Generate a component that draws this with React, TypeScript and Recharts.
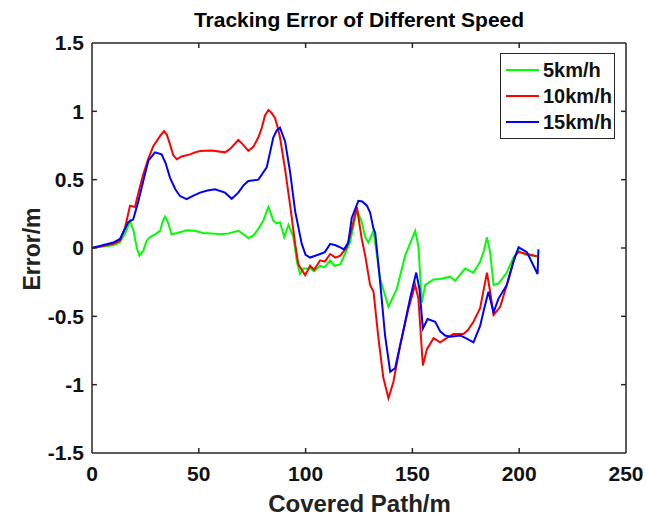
import { LineChart, Line, XAxis, YAxis, ReferenceLine } from "recharts";

// 5km/h
const greenX = [0, 5, 10, 13, 16, 17.8, 19.5, 21, 22.2, 24, 25.5, 27.2, 29.5, 31.9, 33, 34.2, 35.5, 37.3, 40, 44.3, 48.2, 52, 56, 60, 63.9, 68.5, 71, 73.2, 75.5, 77.9, 80.2, 82.6, 84.9, 86.5, 88, 90, 92, 94.3, 95.9, 97.4, 99, 102.1, 104, 106.8, 109, 111.5, 113.5, 116.2, 118.5, 120.8, 124, 126.3, 127.9, 129.4, 131.8, 134.9, 138.8, 142.7, 146.6, 151.3, 152.8, 154.4, 156, 159.9, 163, 167.7, 170, 174.7, 178.6, 181.7, 183.5, 184.9, 186.4, 188, 190.3, 194.2, 197.3, 199.7, 202.8, 208.3];
const greenY = [0, 0.01, 0.02, 0.04, 0.12, 0.2, 0.12, 0, -0.056, -0.02, 0.05, 0.08, 0.1, 0.126, 0.19, 0.23, 0.19, 0.1, 0.11, 0.13, 0.126, 0.11, 0.107, 0.1, 0.107, 0.126, 0.1, 0.073, 0.09, 0.14, 0.2, 0.3, 0.2, 0.18, 0.19, 0.08, 0.17, 0.08, -0.1, -0.19, -0.15, -0.15, -0.17, -0.13, -0.14, -0.09, -0.13, -0.12, -0.04, 0.04, 0.28, 0.19, 0.08, 0.04, 0.126, -0.226, -0.43, -0.3, -0.056, 0.126, 0.017, -0.4, -0.27, -0.23, -0.226, -0.21, -0.24, -0.15, -0.18, -0.1, -0.02, 0.078, -0.03, -0.27, -0.26, -0.18, -0.07, -0.02, -0.05, -0.06];

// 10km/h
const redX = [0, 5, 10, 13.1, 15.5, 17.8, 20.1, 22, 24, 26.5, 28.7, 31.9, 33.7, 35, 36.5, 38, 39.7, 42, 45.9, 48.2, 50.6, 56, 62.3, 65, 68.5, 70.5, 73.2, 75.5, 77.9, 79.5, 81, 82.6, 84, 85.7, 87, 88, 90.4, 92.7, 95.1, 96.6, 99.8, 102.1, 104, 106.8, 109, 111.5, 114, 116.2, 119.3, 121.6, 124, 126.3, 127.9, 130.2, 131.8, 134.1, 136.4, 138.8, 141.1, 144.3, 148.2, 151.3, 152.8, 154.9, 156.8, 159.9, 163, 166, 169.2, 173.9, 176, 178.6, 181.7, 184.9, 186.4, 188, 191.1, 194.2, 198.1, 199.7, 203.6, 208.3];
const redY = [0, 0.015, 0.03, 0.053, 0.15, 0.31, 0.3, 0.42, 0.54, 0.66, 0.745, 0.82, 0.855, 0.83, 0.76, 0.68, 0.65, 0.67, 0.685, 0.7, 0.71, 0.714, 0.7, 0.73, 0.79, 0.76, 0.71, 0.74, 0.81, 0.88, 0.97, 1.01, 0.99, 0.95, 0.88, 0.81, 0.575, 0.32, 0.03, -0.12, -0.2, -0.13, -0.16, -0.09, -0.1, -0.044, -0.07, -0.056, 0.005, 0.14, 0.3, 0.066, -0.056, -0.27, -0.32, -0.66, -0.95, -1.1, -0.98, -0.71, -0.44, -0.27, -0.37, -0.86, -0.74, -0.66, -0.69, -0.66, -0.63, -0.63, -0.6, -0.54, -0.44, -0.18, -0.32, -0.49, -0.43, -0.27, -0.056, -0.03, -0.044, -0.06];

// 15km/h
const blueX = [0, 5, 10, 13.1, 17, 19.3, 21.5, 24, 26.4, 29.5, 32.6, 34.5, 36.5, 39, 41.2, 44.3, 47, 50.6, 54, 57.6, 62.3, 65.4, 68.5, 71, 73.2, 77.9, 81.8, 84.9, 86.5, 88, 90.4, 92.7, 95.1, 98.2, 100, 102.1, 106.8, 109, 111.5, 114, 116.2, 118, 120, 121.6, 124.7, 126.5, 128.7, 130.2, 131.8, 132.6, 134.9, 137.2, 139.6, 141.9, 145, 148.9, 151.8, 153.3, 154.9, 157.1, 160.7, 163, 165.3, 167.7, 172.4, 175, 178.6, 181.7, 183.5, 185.6, 188, 190.3, 194.2, 197.3, 199.7, 203.6, 206.7, 208.6, 209];
const blueY = [0, 0.02, 0.04, 0.066, 0.19, 0.21, 0.33, 0.49, 0.64, 0.7, 0.685, 0.62, 0.515, 0.43, 0.38, 0.357, 0.38, 0.405, 0.42, 0.43, 0.405, 0.36, 0.405, 0.46, 0.49, 0.5, 0.59, 0.81, 0.86, 0.88, 0.78, 0.56, 0.27, 0.03, -0.05, -0.07, -0.044, -0.03, 0.03, 0.02, 0.005, -0.01, 0.04, 0.22, 0.345, 0.34, 0.31, 0.26, 0.14, 0.11, -0.25, -0.64, -0.905, -0.88, -0.66, -0.37, -0.18, -0.3, -0.59, -0.52, -0.54, -0.61, -0.64, -0.65, -0.64, -0.66, -0.69, -0.57, -0.45, -0.32, -0.47, -0.37, -0.27, -0.1, 0.005, -0.03, -0.13, -0.19, -0.01];

const xTicks = [0, 50, 100, 150, 200, 250];
const yTicks = [-1.5, -1, -0.5, 0, 0.5, 1, 1.5];
const xDomain = [0, 250];
const yDomain = [-1.5, 1.5];

const seriesNames = ["5km/h", "10km/h", "15km/h"];
const seriesColors = ["#00ff00", "#ff0000", "#0000ff"];

const toPoints = (xs: number[], ys: number[]) => xs.map((x, i) => ({ x, y: ys[i] }));
const series = [toPoints(greenX, greenY), toPoints(redX, redY), toPoints(blueX, blueY)];

const font = '"Liberation Sans", Arial, sans-serif';
const axisColor = "#262626";
const tickStyle = { fontSize: 21, fontWeight: 700, fill: "#111", fontFamily: font };
// inward tick length, in data units (about 5px each way)
const xTickLen = 2.3;
const yTickLen = 0.037;

export default function App() {
  const [x0, x1] = xDomain;
  const [y0, y1] = yDomain;
  return (
    <div style={{ position: "absolute", left: 0, top: 0, width: 646, height: 518, background: "#fff", fontFamily: font }}>
      <LineChart width={646} height={518} margin={{ top: 42, right: 19, bottom: 0, left: 0 }}>
        <XAxis
          dataKey="x"
          type="number"
          domain={xDomain}
          ticks={xTicks}
          allowDuplicatedCategory={false}
          height={65}
          stroke={axisColor}
          strokeWidth={1.5}
          tickLine={false}
          tickSize={0}
          tickMargin={13}
          tick={tickStyle}
        />
        <XAxis xAxisId="top" orientation="top" type="number" domain={xDomain} ticks={xTicks} height={1} stroke={axisColor} strokeWidth={1.5} tickLine={false} tick={false} />
        <YAxis
          type="number"
          domain={yDomain}
          ticks={yTicks}
          width={92}
          stroke={axisColor}
          strokeWidth={1.5}
          tickLine={false}
          tickSize={0}
          tickMargin={8}
          tick={tickStyle}
        />
        <YAxis yAxisId="right" orientation="right" type="number" domain={yDomain} ticks={yTicks} width={1} stroke={axisColor} strokeWidth={1.5} tickLine={false} tick={false} />

        {xTicks.slice(1, -1).map((t) => (
          <ReferenceLine key={`xb${t}`} segment={[{ x: t, y: y0 }, { x: t, y: y0 + yTickLen }]} stroke={axisColor} strokeWidth={1.5} />
        ))}
        {xTicks.slice(1, -1).map((t) => (
          <ReferenceLine key={`xt${t}`} segment={[{ x: t, y: y1 }, { x: t, y: y1 - yTickLen }]} stroke={axisColor} strokeWidth={1.5} />
        ))}
        {yTicks.slice(1, -1).map((t) => (
          <ReferenceLine key={`yl${t}`} segment={[{ x: x0, y: t }, { x: x0 + xTickLen, y: t }]} stroke={axisColor} strokeWidth={1.5} />
        ))}
        {yTicks.slice(1, -1).map((t) => (
          <ReferenceLine key={`yr${t}`} segment={[{ x: x1, y: t }, { x: x1 - xTickLen, y: t }]} stroke={axisColor} strokeWidth={1.5} />
        ))}

        {series.map((pts, i) => (
          <Line
            key={seriesNames[i]}
            data={pts}
            dataKey="y"
            name={seriesNames[i]}
            type="linear"
            stroke={seriesColors[i]}
            strokeWidth={2}
            dot={false}
            isAnimationActive={false}
          />
        ))}
      </LineChart>

      <div style={{ position: "absolute", left: 0, top: 8, width: 718, textAlign: "center", fontSize: 21, fontWeight: 700, lineHeight: "24px", color: "#000" }}>
        Tracking Error of Different Speed
      </div>
      <div style={{ position: "absolute", left: 0, top: 491, width: 719, textAlign: "center", fontSize: 24, fontWeight: 700, lineHeight: "26px", color: "#222" }}>
        Covered Path/m
      </div>
      <div style={{ position: "absolute", left: 32, top: 249, transform: "translate(-50%, -50%) rotate(-90deg)", fontSize: 23, fontWeight: 700, lineHeight: "26px", whiteSpace: "nowrap", color: "#222" }}>
        Error/m
      </div>

      <div style={{ position: "absolute", left: 500, top: 53, width: 113, height: 81, border: `1.5px solid ${axisColor}`, background: "#fff", paddingTop: 3, boxSizing: "content-box" }}>
        {seriesNames.map((n, i) => (
          <div key={n} style={{ display: "flex", alignItems: "center", height: 26 }}>
            <div style={{ width: 33, height: 2, background: seriesColors[i], marginLeft: 5, marginRight: 4 }} />
            <span style={{ fontSize: 20, fontWeight: 700, color: "#111" }}>{n}</span>
          </div>
        ))}
      </div>
    </div>
  );
}
